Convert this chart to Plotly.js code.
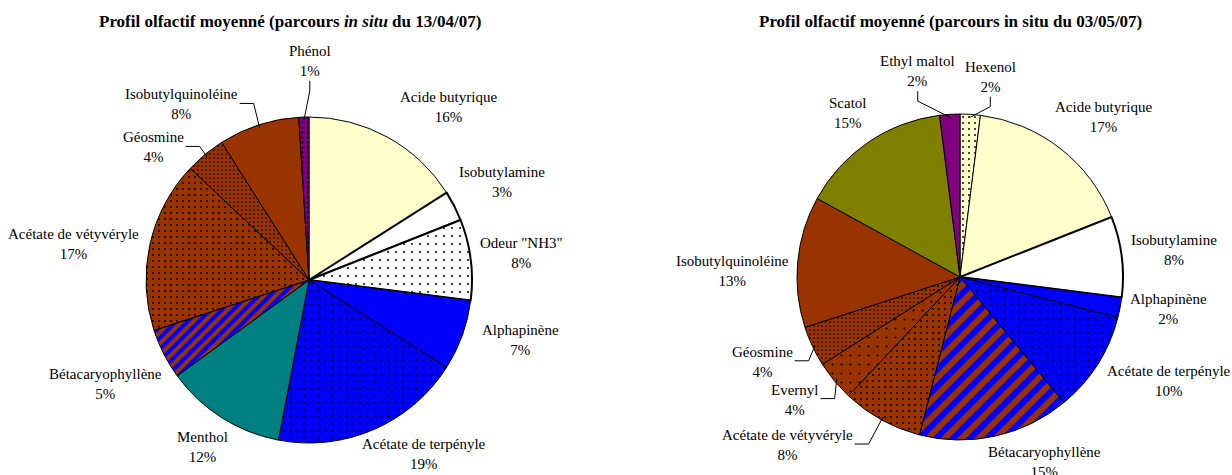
<!DOCTYPE html>
<html>
<head>
<meta charset="utf-8">
<script src="https://cdn.plot.ly/plotly-3.0.1.min.js"></script>
<style>
  html, body { margin: 0; padding: 0; background: #fff; }
  #chart { width: 1232px; height: 475px; }
</style>
</head>
<body>
<div id="chart"></div>
<script>
// Chart data
const leftNames = ['Acide butyrique', 'Isobutylamine', 'Odeur "NH3"', 'Alphapinène', 'Acétate de terpényle',
    'Menthol', 'Bétacaryophyllène', 'Acétate de vétyvéryle', 'Géosmine', 'Isobutylquinoléine', 'Phénol'];
const leftValues = [16, 3, 8, 7, 19, 12, 5, 17, 4, 8, 1];

const rightNames = ['Hexenol', 'Acide butyrique', 'Isobutylamine', 'Alphapinène', 'Acétate de terpényle',
    'Bétacaryophyllène', 'Acétate de vétyvéryle', 'Evernyl', 'Géosmine', 'Isobutylquinoléine', 'Scatol', 'Ethyl maltol'];
const rightValues = [2, 17, 8, 2, 10, 15, 8, 4, 4, 13, 15, 2];

const leftTitle = 'Profil olfactif moyenné (parcours <i>in situ</i> du 13/04/07)';
const rightTitle = 'Profil olfactif moyenné (parcours in situ du 03/05/07)';

// Page size
const W = 1232;
const H = 475;

const LabelFont = 'Liberation Serif';
const LabelSize = 15;
const LabelHalfHeight = 16;
const LabelGap = 8;

// Slice fills: colour + pattern
const Yellow = '#FFFFCC', Blue = '#0000FF', Brown = '#993300', Teal = '#008080',
      Purple = '#800080', Olive = '#808000', White = '#FFFFFF';

const Fills = {
    'Acide butyrique':       { color: Yellow, shape: '' },
    'Isobutylamine':         { color: White, shape: '', edge: 2 },
    'Odeur "NH3"':           { color: White, shape: '.', size: 8, solidity: 0.05, edge: 2 },
    'Alphapinène':           { color: Blue, shape: '' },
    'Acétate de terpényle':  { color: Blue, shape: '.', size: 7, solidity: 0.06 },
    'Menthol':               { color: Teal, shape: '' },
    'Bétacaryophyllène':     { color: Brown, shape: '/', fg: Blue, size: 8, solidity: 0.5 },
    'Acétate de vétyvéryle': { color: Brown, shape: '.', size: 6, solidity: 0.08 },
    'Géosmine':              { color: Brown, shape: '.', size: 4, solidity: 0.14 },
    'Isobutylquinoléine':    { color: Brown, shape: '' },
    'Phénol':                { color: Purple, shape: '.', size: 5, solidity: 0.1 },
    'Hexenol':               { color: Yellow, shape: '.', size: 6, solidity: 0.08 },
    'Evernyl':               { color: Brown, shape: '.', size: 9, solidity: 0.04 },
    'Scatol':                { color: Olive, shape: '' },
    'Ethyl maltol':          { color: Purple, shape: '' },
};

// Pie geometry in page pixels
const Pies = [
    { cx: 309, cy: 280, r: 163, titleX: 290, stripe: 8 },
    { cx: 960, cy: 277, r: 163, titleX: 950, stripe: 12 },
];

// Label tweaks: [angle shift in degrees, extra distance in px]
const leftNudge = {
    'Acide butyrique': [10, 8], 'Alphapinène': [-4, 8], 'Acétate de terpényle': [-10, -10],
    'Acétate de vétyvéryle': [-4, 0], 'Géosmine': [-10, 0], 'Isobutylquinoléine': [-18, 0], 'Phénol': [2, 32],
};
const rightNudge = {
    'Hexenol': [5, 12], 'Ethyl maltol': [-8, 16], 'Scatol': [0, 4], 'Acide butyrique': [4, 0],
    'Alphapinène': [-2, 0], 'Acétate de terpényle': [-6, 0], 'Géosmine': [2, 10], 'Evernyl': [3, 6],
    'Acétate de vétyvéryle': [17, 12], 'Bétacaryophyllène': [-12, -6], 'Isobutylquinoléine': [-4, 0],
};
const leftLeaders = ['Phénol', 'Isobutylquinoléine', 'Géosmine'];
const rightLeaders = ['Ethyl maltol', 'Hexenol', 'Géosmine', 'Evernyl', 'Acétate de vétyvéryle'];

// Canvas to measure label widths
const measureCtx = document.createElement('canvas').getContext('2d');
measureCtx.font = LabelSize + 'px "' + LabelFont + '"';

function textWidth(text) {
    return Math.max(...text.split('<br>').map(s => measureCtx.measureText(s).width));
}

function makeTrace(names, values, pie) {
    const fills = names.map(n => Fills[n]);
    return {
        type: 'pie',
        labels: names,
        values: values,
        sort: false,
        direction: 'clockwise',
        rotation: 0,
        textinfo: 'none',
        hoverinfo: 'none',
        showlegend: false,
        domain: {
            x: [(pie.cx - pie.r) / W, (pie.cx + pie.r) / W],
            y: [1 - (pie.cy + pie.r) / H, 1 - (pie.cy - pie.r) / H],
        },
        marker: {
            colors: fills.map(f => f.color),
            line: { color: '#000', width: fills.map(f => f.edge || 1) },
            pattern: {
                shape: fills.map(f => f.shape),
                fgcolor: fills.map(f => f.fg || '#000'),
                bgcolor: fills.map(f => f.color),
                size: fills.map(f => f.shape === '/' ? pie.stripe : (f.size || 8)),
                solidity: fills.map(f => f.solidity || 0.1),
                fillmode: 'replace',
            },
        },
    };
}

// px -> paper coords
const px = x => x / W;
const py = y => 1 - y / H;

var labelNotes = [];
var leaderShapes = [];

function addLabels(names, values, pie, nudge, leaders) {
    const total = values.reduce((a, b) => a + b, 0);
    let acc = 0;
    names.forEach((name, i) => {
        const mid = (acc + values[i] / 2) / total * 360;
        acc += values[i];
        const nd = nudge[name] || [0, 0];
        const th = (mid + nd[0]) * Math.PI / 180;
        const text = name + '<br>' + Math.round(values[i] / total * 100) + '%';
        const w = textWidth(text);
        const ext = Math.abs(Math.sin(th)) * w / 2 + Math.abs(Math.cos(th)) * LabelHalfHeight;
        const d = pie.r + LabelGap + nd[1] + ext;
        const lx = pie.cx + d * Math.sin(th);
        const ly = pie.cy - d * Math.cos(th);
        labelNotes.push({
            xref: 'paper', yref: 'paper',
            x: px(lx), y: py(ly),
            xanchor: 'center', yanchor: 'middle', showarrow: false,
            text: text,
            align: 'center',
            font: { family: LabelFont, size: LabelSize, color: '#000' },
        });
        if (!leaders.includes(name)) return;

        // Bent leader line from label to slice edge
        const tm = mid * Math.PI / 180;
        const tx = pie.cx + (pie.r - 3) * Math.sin(tm);
        const ty = pie.cy - (pie.r - 3) * Math.cos(tm);
        let x0, y0, x1, y1;
        if (Math.abs(tx - lx) > w / 2) {
            // label beside the slice: leave from its side
            const side = Math.sign(tx - lx);
            x0 = lx + side * (w / 2 + 2);
            y0 = ly - 1;
            x1 = x0 + side * 14;
            y1 = y0;
        } else {
            // label above/below the slice: leave from its bottom/top
            const side = Math.sign(ty - ly);
            x0 = lx;
            y0 = ly + side * (LabelHalfHeight + 4);
            x1 = x0;
            y1 = y0 + side * 10;
        }
        leaderShapes.push({
            type: 'path', xref: 'paper', yref: 'paper',
            path: `M${px(x0)},${py(y0)} L${px(x1)},${py(y1)} L${px(tx)},${py(ty)}`,
            line: { color: '#000', width: 1 },
        });
    });
}

function titleAnnotation(text, pie) {
    return {
        xref: 'paper', yref: 'paper',
        x: px(pie.titleX), y: py(22),
        xanchor: 'center', yanchor: 'middle', showarrow: false,
        text: '<b>' + text + '</b>',
        font: { family: LabelFont, size: 17, color: '#000' },
    };
}

addLabels(leftNames, leftValues, Pies[0], leftNudge, leftLeaders);
addLabels(rightNames, rightValues, Pies[1], rightNudge, rightLeaders);

var traces = [
    makeTrace(leftNames, leftValues, Pies[0]),
    makeTrace(rightNames, rightValues, Pies[1]),
];

var layout = {
    width: W,
    height: H,
    margin: { l: 0, r: 0, t: 0, b: 0 },
    paper_bgcolor: '#fff',
    shapes: leaderShapes,
    annotations: [
        titleAnnotation(leftTitle, Pies[0]),
        titleAnnotation(rightTitle, Pies[1]),
    ].concat(labelNotes),
};

Plotly.newPlot('chart', traces, layout, { displayModeBar: false, staticPlot: true });
</script>
</body>
</html>
